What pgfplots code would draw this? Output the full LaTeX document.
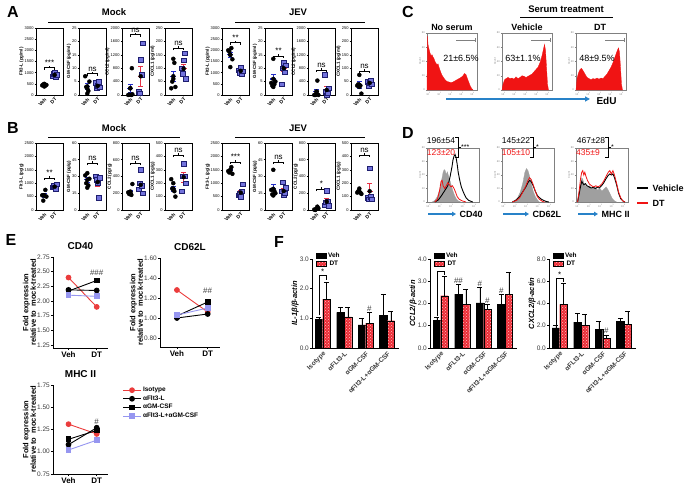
\documentclass[border=0pt]{standalone}
\usepackage{fontspec}
\setmainfont{Liberation Sans}
\usepackage{pgfplots}
\pgfplotsset{compat=1.18}
\usetikzlibrary{patterns,arrows.meta}
\definecolor{vblue}{RGB}{35,45,200}
\definecolor{dred}{RGB}{230,50,70}
\definecolor{sqfill}{RGB}{115,115,220}
\definecolor{sqdraw}{RGB}{30,30,110}
\definecolor{histred}{RGB}{240,20,20}
\definecolor{arrowblue}{RGB}{40,130,200}
\definecolor{lav}{RGB}{150,150,240}
\definecolor{barred}{RGB}{235,45,55}
\definecolor{isored}{RGB}{235,60,60}
\definecolor{txtgray}{RGB}{60,60,60}
\newcommand{\fs}[1]{\fontsize{#1}{#1}\selectfont}
\pgfkeys{/pgf/number format/assume math mode=true, /pgf/number format/1000 sep={}}
\pgfplotsset{
 ab/.style={scale only axis, anchor=south west, width=27pt, height=67pt, xmin=0.2, xmax=2.8, ymin=0,
  xtick={1,2}, xticklabels={Veh,DT},
  x tick label style={rotate=45, anchor=north east, font=\fs{5}\bfseries, inner sep=0.5pt},
  y tick label style={font=\fs{4}, inner sep=0.8pt},
  ylabel style={font=\fs{4.5}\bfseries, inner sep=0pt},
  tick align=outside, xtick pos=bottom, ytick pos=left, major tick length=1.4pt,
  axis line style={line width=0.8pt}, every tick/.style={black, line width=0.5pt},
  scaled y ticks=false, clip=false},
 hist/.style={scale only axis, anchor=south west, xmin=0, xmax=100, ymin=0, ymax=100,
  axis line style={gray, line width=0.4pt}, xtick={3,25,47,69,91},
  xticklabels={10\textsuperscript{0},10\textsuperscript{1},10\textsuperscript{2},10\textsuperscript{3},10\textsuperscript{4}},
  ytick={0,25,50,75,100}, yticklabels={0,20,40,60,80},
  tick label style={font=\fs{2.6}, gray, inner sep=0.8pt}, major tick length=1.2pt,
  tick align=outside, xtick pos=bottom, ytick pos=left, every tick/.style={gray, line width=0.3pt},
  ylabel={Count}, ylabel style={font=\fs{2.6}, gray, inner sep=0pt}, clip=false},
 eax/.style={scale only axis, anchor=south west, axis lines*=left, xmin=0.45, xmax=2.4,
  xtick={1,2}, xticklabels={Veh,DT}, x tick label style={font=\fs{8}\bfseries, inner sep=1.5pt},
  y tick label style={font=\fs{6.5}, txtgray, inner sep=1pt, /pgf/number format/fixed, /pgf/number format/fixed zerofill, /pgf/number format/precision=2},
  ylabel={Fold expression\\relative to\ \ mock-treated}, ylabel style={align=center, font=\fs{7.5}\bfseries, inner sep=0pt},
  title style={font=\fs{10}\bfseries, inner sep=1pt}, tick align=outside, major tick length=2pt,
  axis line style={line width=0.8pt}, every tick/.style={black, line width=0.6pt},
  every axis plot/.append style={line width=0.9pt, mark size=2.4pt}, clip=false},
 fax/.style={scale only axis, anchor=south west, width=87pt, height=89pt, ymin=0, xmin=-0.5, xmax=3.55,
  axis lines*=left, ybar, bar width=7.5pt, xtick={0,1,2,3},
  xticklabels={Isotype,αFLt3-L,αGM-CSF,αFlt3-L+αGM-CSF},
  x tick label style={rotate=45, anchor=north east, font=\fs{6.6}\bfseries, txtgray, inner sep=0.5pt},
  y tick label style={font=\fs{6.5}, txtgray, inner sep=1pt, /pgf/number format/fixed, /pgf/number format/fixed zerofill, /pgf/number format/precision=1},
  ylabel style={font=\fs{7.5}\bfseries\itshape, inner sep=0pt},
  major x tick style={draw=none}, tick align=outside, major tick length=2pt,
  axis line style={line width=0.8pt}, every tick/.style={black, line width=0.6pt}, clip=false,
  legend style={at={(0.04,1.09)}, anchor=north west, draw=none, fill=none, font=\fs{6.5}\bfseries, row sep=-2.5pt, inner sep=0pt},
  legend image code/.code={\draw[#1] (0pt,-2pt) rectangle (10pt,3pt);}},
 vbar/.style={fill=black, draw=black, bar shift=-3.75pt, error bars/.cd, y dir=plus, y explicit,
  error bar style={black, line width=0.6pt}, error mark options={rotate=90, black, mark size=2.5pt, line width=0.6pt}},
 dbar/.style={fill=barred, draw=black, postaction={pattern=crosshatch dots, pattern color=pink}, bar shift=3.75pt, error bars/.cd, y dir=plus, y explicit,
  error bar style={black, line width=0.6pt}, error mark options={rotate=90, black, mark size=2.5pt, line width=0.6pt}},
}
\newcommand{\abplot}[9]{%
\begin{axis}[ab,#1]
\addplot[only marks, mark=*, mark size=2pt, black] coordinates {#2};
\addplot[only marks, mark=square*, mark size=2.2pt, mark options={draw=sqdraw, fill=sqfill, line width=0.5pt}] coordinates {#3};
\addplot[only marks, mark=none, error bars/.cd, y dir=both, y explicit, error bar style={vblue, line width=0.6pt}, error mark options={rotate=90, vblue, mark size=2.2pt, line width=0.6pt}] coordinates {(1,#4) +- (0,#5)};
\addplot[only marks, mark=none, error bars/.cd, y dir=both, y explicit, error bar style={dred, line width=0.6pt}, error mark options={rotate=90, dred, mark size=2.2pt, line width=0.6pt}] coordinates {(2,#6) +- (0,#7)};
\addplot[vblue, line width=1.2pt] coordinates {(0.7,#4)(1.3,#4)};
\addplot[dred, line width=1.2pt] coordinates {(1.7,#6)(2.3,#6)};
\draw[line width=0.5pt] ([yshift=-2pt]axis cs:1,#8) -- (axis cs:1,#8) -- (axis cs:2,#8) -- ([yshift=-2pt]axis cs:2,#8);
\draw[line width=0.5pt] (axis cs:1.5,#8) -- ([yshift=1.8pt]axis cs:1.5,#8) node[above, inner sep=0.3pt, font=\fs{8}] {#9};
\end{axis}}
\begin{document}
\begin{tikzpicture}
\useasboundingbox (0pt,0pt) rectangle (685pt,-486pt);
% ---------- headers ----------
\node[font=\fs{16}\bfseries] at (13pt,-12pt) {A};
\node[font=\fs{16}\bfseries] at (13pt,-128pt) {B};
\node[font=\fs{16}\bfseries] at (408pt,-12pt) {C};
\node[font=\fs{16}\bfseries] at (408pt,-133pt) {D};
\node[font=\fs{16}\bfseries] at (11pt,-240pt) {E};
\node[font=\fs{16}\bfseries] at (279pt,-242pt) {F};
\node[font=\fs{9.5}\bfseries] at (114pt,-12pt) {Mock};
\draw[line width=0.6pt] (48pt,-22pt) -- (180pt,-22pt);
\node[font=\fs{9.5}\bfseries] at (298pt,-12pt) {JEV};
\draw[line width=0.6pt] (235pt,-22pt) -- (365pt,-22pt);
\node[font=\fs{9.5}\bfseries] at (114pt,-128pt) {Mock};
\draw[line width=0.6pt] (48pt,-137pt) -- (180pt,-137pt);
\node[font=\fs{9.5}\bfseries] at (298pt,-128pt) {JEV};
\draw[line width=0.6pt] (235pt,-137pt) -- (365pt,-137pt);
% ---------- A ----------
\abplot{at={(36pt,-95pt)}, ymax=3000, ytick={0,500,...,3000}, ylabel={Flt3-L (pg/ml)}}
 {(0.8,430)(0.9,470)(1.0,500)(1.1,420)(1.2,450)(1.0,380)}
 {(1.8,850)(1.9,950)(2.0,1000)(2.1,820)(2.2,900)}{450}{25}{900}{35}{1230}{***}
\abplot{at={(79pt,-95pt)}, ymax=25, ytick={0,5,...,25}, ylabel={GM-CSF (pg/ml)}}
 {(0.8,7)(0.9,3)(1.0,2.5)(1.1,1.5)(1.2,5)(1.0,0.5)}
 {(1.8,4.5)(1.9,2.5)(2.0,3.5)(2.1,5)(2.2,3)}{3.2}{1.0}{3.4}{0.6}{8}{ns}
\abplot{at={(122pt,-95pt)}, ymax=2000, ytick={0,400,...,2000}, ylabel={CCL2 (pg/ml)}}
 {(0.8,0)(0.9,10)(1.0,200)(1.1,0)(1.15,800)(1.2,20)}
 {(1.8,100)(1.9,50)(2.0,1050)(2.1,600)(2.2,1550)}{200}{130}{560}{300}{1800}{ns}
\abplot{at={(165pt,-95pt)}, ymax=250, ytick={0,50,...,250}, ylabel={CXCL1 (pg/ml)}}
 {(0.8,25)(0.9,50)(1.0,135)(1.1,120)(1.2,30)(1.0,60)}
 {(1.8,100)(1.9,80)(2.0,130)(2.1,155)(2.2,60)}{70}{20}{98}{18}{175}{ns}
\abplot{at={(222pt,-95pt)}, ymax=3000, ytick={0,500,...,3000}, ylabel={Flt3-L (pg/ml)}}
 {(0.8,2000)(0.9,1950)(1.0,1800)(1.1,2100)(1.2,1600)(1.0,1250)}
 {(1.8,1100)(1.9,1000)(2.0,1250)(2.1,950)(2.2,1050)}{1800}{130}{1080}{50}{2350}{**}
\abplot{at={(265pt,-95pt)}, ymax=25, ytick={0,5,...,25}, ylabel={GM-CSF (pg/ml)}}
 {(0.8,4.5)(0.9,3.5)(1.0,13.5)(1.1,4)(1.2,5)(1.0,3)}
 {(1.8,4)(1.9,10)(2.0,12)(2.1,8.5)(2.2,11)}{6}{1.8}{10}{1.2}{14.5}{**}
\abplot{at={(308pt,-95pt)}, ymax=2000, ytick={0,400,...,2000}, ylabel={CCL2 (pg/ml)}}
 {(0.8,0)(0.9,0)(1.0,20)(1.1,430)(1.2,0)(1.05,100)}
 {(1.8,600)(1.9,100)(2.0,0)(2.1,50)(2.2,200)}{100}{70}{150}{110}{750}{ns}
\abplot{at={(351pt,-95pt)}, ymax=250, ytick={0,50,...,250}, ylabel={CXCL1 (pg/ml)}}
 {(0.8,35)(0.9,40)(1.0,75)(1.1,35)(1.2,5)(1.0,30)}
 {(1.8,50)(1.9,35)(2.0,45)(2.1,55)(2.2,40)}{38}{12}{45}{6}{90}{ns}
% ---------- B ----------
\abplot{at={(36pt,-210pt)}, ymax=2500, ytick={0,500,...,2500}, ylabel={Flt3-L (pg/g)}}
 {(0.8,550)(0.9,350)(1.0,550)(1.1,750)(1.2,500)}
 {(1.8,850)(1.9,900)(2.0,850)(2.1,800)(2.2,950)}{540}{70}{870}{30}{1200}{**}
\abplot{at={(79pt,-210pt)}, ymax=60, ytick={0,15,...,60}, ylabel={GM-CSF (pg/g)}}
 {(0.8,31)(0.9,24)(1.0,20)(1.1,22)(1.2,28)(1.0,33)}
 {(1.8,30)(1.9,27)(2.0,24)(2.1,11)(2.2,29)}{27}{2.5}{25}{3.5}{42}{ns}
\abplot{at={(122pt,-210pt)}, ymax=800, ytick={0,200,...,800}, ylabel={CCL2 (pg/g)}}
 {(0.8,210)(0.9,190)(1.0,200)(1.1,180)(1.2,310)(1.0,210)}
 {(1.8,250)(1.9,320)(2.0,480)(2.1,290)(2.2,200)}{220}{20}{300}{45}{560}{ns}
\abplot{at={(165pt,-210pt)}, ymax=500, ytick={0,100,...,500}, ylabel={CXCL1 (pg/g)}}
 {(0.8,230)(0.9,160)(1.0,150)(1.1,140)(1.2,100)(1.0,200)}
 {(1.8,140)(1.9,250)(2.0,345)(2.1,250)(2.2,200)}{160}{20}{245}{35}{410}{ns}
\abplot{at={(222pt,-210pt)}, ymax=2500, ytick={0,500,...,2500}, ylabel={Flt3-L (pg/g)}}
 {(0.8,1450)(0.9,1400)(1.0,1500)(1.1,1600)(1.2,1350)}
 {(1.8,550)(1.9,600)(2.0,500)(2.1,700)(2.2,950)}{1470}{50}{650}{80}{1800}{***}
\abplot{at={(265pt,-210pt)}, ymax=60, ytick={0,15,...,60}, ylabel={GM-CSF (pg/g)}}
 {(0.8,18)(0.9,14)(1.0,36)(1.1,17)(1.2,15)(1.0,13)}
 {(1.8,17)(1.9,25)(2.0,13)(2.1,15)(2.2,20)}{19}{4}{17}{2.5}{43}{ns}
\abplot{at={(308pt,-210pt)}, ymax=800, ytick={0,200,...,800}, ylabel={CCL2 (pg/g)}}
 {(0.8,5)(0.9,0)(1.0,10)(1.1,40)(1.2,20)}
 {(1.8,60)(1.9,90)(2.0,230)(2.1,100)(2.2,50)}{15}{8}{100}{35}{250}{*}
\abplot{at={(351pt,-210pt)}, ymax=500, ytick={0,100,...,500}, ylabel={CXCL1 (pg/g)}}
 {(0.8,130)(0.9,140)(1.0,160)(1.1,130)(1.2,120)}
 {(1.8,90)(1.9,80)(2.0,310)(2.1,100)(2.2,80)}{135}{8}{140}{60}{410}{ns}
% ---------- C ----------
\node[font=\fs{9.5}\bfseries] at (566pt,-9pt) {Serum treatment};
\draw[line width=0.7pt] (520pt,-17pt) -- (613pt,-17pt);
\node[font=\fs{9}\bfseries] at (452pt,-27pt) {No serum};
\node[font=\fs{9}\bfseries] at (527pt,-27pt) {Vehicle};
\node[font=\fs{9}\bfseries] at (600pt,-27pt) {DT};
\begin{axis}[hist, at={(427pt,-90pt)}, width=50pt, height=57pt]
\addplot[fill=histred, draw=histred, line width=0.3pt] coordinates {(0,0)(1,95)(2,80)(4,72)(6,65)(8,60)(10,62)(12,58)(14,55)(16,50)(18,47)(20,44)(22,46)(24,40)(26,35)(28,30)(30,26)(33,22)(36,18)(40,15)(44,14)(48,13)(52,14)(56,16)(60,18)(64,20)(68,22)(72,25)(75,29)(78,27)(80,22)(83,15)(86,8)(89,3)(92,0)} \closedcycle;
\draw[gray, line width=0.4pt] (axis cs:58,88) -- (axis cs:97,88) (axis cs:97,85) -- (axis cs:97,91);
\node[font=\fs{9}] at (axis cs:68,56) {21±6.5\%};
\end{axis}
\begin{axis}[hist, at={(502pt,-90pt)}, width=50pt, height=57pt]
\addplot[fill=histred, draw=histred, line width=0.3pt] coordinates {(0,0)(2,10)(5,18)(8,20)(12,22)(16,20)(20,21)(24,19)(28,23)(32,20)(36,22)(40,25)(44,24)(48,22)(52,24)(56,26)(60,28)(64,32)(68,36)(72,40)(76,48)(80,60)(83,72)(85,80)(87,70)(89,40)(91,10)(93,0)} \closedcycle;
\draw[gray, line width=0.4pt] (axis cs:58,88) -- (axis cs:97,88) (axis cs:97,85) -- (axis cs:97,91);
\node[font=\fs{9}] at (axis cs:42,56) {63±1.1\%};
\end{axis}
\begin{axis}[hist, at={(576pt,-90pt)}, width=50pt, height=57pt]
\addplot[fill=histred, draw=histred, line width=0.3pt] coordinates {(0,0)(2,20)(5,30)(8,36)(11,38)(14,34)(18,28)(22,22)(26,20)(30,18)(34,20)(38,19)(42,21)(46,19)(50,21)(54,20)(58,24)(62,28)(66,34)(70,40)(74,48)(78,58)(82,68)(85,74)(87,66)(89,40)(91,10)(93,0)} \closedcycle;
\draw[gray, line width=0.4pt] (axis cs:58,88) -- (axis cs:97,88) (axis cs:97,85) -- (axis cs:97,91);
\node[font=\fs{9}] at (axis cs:42,56) {48±9.5\%};
\end{axis}
\draw[-{Triangle[length=5pt,width=5pt]}, arrowblue, line width=1.6pt] (446pt,-99pt) -- (590pt,-99pt);
\node[font=\fs{10}\bfseries, anchor=west] at (593pt,-101pt) {EdU};
% ---------- D ----------
\begin{axis}[hist, at={(427pt,-202pt)}, width=52pt, height=54pt]
\addplot[fill=gray!75, draw=gray!75, line width=0.3pt] coordinates {(10,0)(15,3)(20,10)(25,25)(28,40)(31,55)(33,60)(35,58)(37,50)(39,56)(41,50)(44,40)(47,30)(50,20)(53,12)(56,6)(60,2)(65,0)} \closedcycle;
\addplot[black, line width=0.9pt] coordinates {(15,0)(22,4)(28,12)(32,18)(36,24)(40,30)(44,45)(48,65)(50,78)(52,85)(54,88)(56,82)(58,70)(60,55)(63,40)(66,28)(70,18)(75,8)(80,3)(88,0)};
\addplot[histred, line width=0.8pt] coordinates {(15,0)(20,5)(24,20)(27,38)(29,40)(31,30)(34,25)(37,30)(40,36)(43,32)(46,28)(49,30)(52,25)(55,18)(58,10)(62,5)(68,2)(75,0)};
\end{axis}
\begin{axis}[hist, at={(502pt,-202pt)}, width=52pt, height=54pt]
\addplot[fill=gray!75, draw=gray!75, line width=0.3pt] coordinates {(20,0)(25,3)(30,8)(35,18)(40,35)(44,55)(47,62)(50,58)(53,48)(56,35)(60,20)(64,10)(68,4)(72,0)} \closedcycle;
\addplot[black, line width=0.9pt] coordinates {(20,0)(28,4)(34,10)(38,16)(42,22)(46,28)(50,36)(53,40)(56,38)(60,30)(64,20)(68,12)(72,8)(76,5)(80,3)(85,1)(90,0)};
\addplot[histred, line width=0.8pt] coordinates {(20,0)(28,3)(34,8)(38,15)(42,22)(46,30)(50,40)(53,45)(56,42)(60,32)(64,20)(68,10)(72,5)(78,1)(82,0)};
\end{axis}
\begin{axis}[hist, at={(576pt,-202pt)}, width=52pt, height=54pt]
\addplot[fill=gray!75, draw=gray!75, line width=0.3pt] coordinates {(3,0)(6,15)(9,35)(11,45)(13,42)(15,35)(18,30)(22,28)(26,30)(30,25)(34,28)(38,26)(42,22)(46,25)(50,20)(54,24)(58,28)(62,22)(66,14)(70,6)(74,2)(78,0)} \closedcycle;
\addplot[black, line width=0.9pt] coordinates {(3,0)(6,15)(9,30)(11,38)(13,35)(15,32)(18,34)(21,30)(25,28)(29,26)(33,27)(37,25)(41,27)(45,26)(49,30)(53,35)(57,42)(61,48)(65,52)(68,50)(71,52)(74,45)(78,32)(82,16)(86,6)(90,2)(94,0)};
\addplot[histred, line width=0.8pt] coordinates {(3,0)(6,20)(9,45)(11,55)(13,58)(15,50)(17,55)(19,48)(22,40)(26,33)(30,30)(34,28)(38,30)(42,28)(46,30)(50,34)(54,40)(58,48)(62,55)(65,58)(68,52)(71,58)(74,50)(78,35)(82,18)(86,8)(90,2)(94,0)};
\end{axis}
\node[font=\fs{8.5}] at (441pt,-141pt) {196±54};
\node[font=\fs{8.5}, histred] at (441pt,-153pt) {123±20};
\draw[line width=0.5pt] (455pt,-137pt) -- (458pt,-137pt) -- (458pt,-157pt) -- (455pt,-157pt) (458pt,-147pt) -- (461pt,-147pt);
\node[font=\fs{7}, anchor=west, inner sep=0pt] at (461pt,-147pt) {***};
\node[font=\fs{8.5}] at (516pt,-141pt) {145±22};
\node[font=\fs{8.5}, histred] at (516pt,-153pt) {105±10};
\draw[line width=0.5pt] (530pt,-137pt) -- (533pt,-137pt) -- (533pt,-157pt) -- (530pt,-157pt) (533pt,-147pt) -- (536pt,-147pt);
\node[font=\fs{7}, anchor=west, inner sep=0pt] at (536pt,-147pt) {*};
\node[font=\fs{8.5}] at (591pt,-141pt) {467±28};
\node[font=\fs{8.5}, histred] at (588pt,-153pt) {435±9};
\draw[line width=0.5pt] (605pt,-137pt) -- (608pt,-137pt) -- (608pt,-157pt) -- (605pt,-157pt) (608pt,-147pt) -- (611pt,-147pt);
\node[font=\fs{7}, anchor=west, inner sep=0pt] at (611pt,-147pt) {*};
\draw[-{Triangle[length=4pt,width=4.5pt]}, arrowblue, line width=1.4pt] (428pt,-214pt) -- (456pt,-214pt);
\node[font=\fs{9}\bfseries, anchor=west] at (456pt,-214pt) {CD40};
\draw[-{Triangle[length=4pt,width=4.5pt]}, arrowblue, line width=1.4pt] (503pt,-214pt) -- (529pt,-214pt);
\node[font=\fs{9}\bfseries, anchor=west] at (529pt,-214pt) {CD62L};
\draw[-{Triangle[length=4pt,width=4.5pt]}, arrowblue, line width=1.4pt] (578pt,-214pt) -- (598pt,-214pt);
\node[font=\fs{9}\bfseries, anchor=west] at (598pt,-214pt) {MHC II};
\draw[black, line width=1.3pt] (637pt,-188pt) -- (648pt,-188pt);
\node[font=\fs{9}\bfseries, anchor=west] at (649pt,-188pt) {Vehicle};
\draw[histred, line width=1.3pt] (637pt,-203pt) -- (648pt,-203pt);
\node[font=\fs{9}\bfseries, anchor=west] at (649pt,-203pt) {DT};
% ---------- E ----------
\begin{axis}[eax, at={(53pt,-348pt)}, width=55pt, height=91pt, ymin=1.2, ymax=2.75, ytick={1.25,1.5,1.75,2,2.25,2.5,2.75}, title={CD40}]
\addplot[isored, mark=*] coordinates {(1,2.40)(2,1.90)};
\addplot[black, mark=*] coordinates {(1,2.19)(2,2.18)};
\addplot[black, mark=square*] coordinates {(1,2.17)(2,2.35)};
\addplot[lav, mark=square*] coordinates {(1,2.10)(2,2.08)};
\node[font=\fs{8}, txtgray] at (axis cs:2,2.49) {\#\#\#};
\end{axis}
\begin{axis}[eax, at={(160pt,-347pt)}, width=60pt, height=89pt, ymin=0.71, ymax=1.6, ytick={0.8,1.0,1.2,1.4,1.6}, title={CD62L}]
\addplot[isored, mark=*] coordinates {(1,1.28)(2,1.06)};
\addplot[black, mark=*] coordinates {(1,1.00)(2,1.04)};
\addplot[black, mark=square*] coordinates {(1,1.02)(2,1.16)};
\addplot[lav, mark=square*] coordinates {(1,1.03)(2,1.10)};
\node[font=\fs{8}, txtgray] at (axis cs:2,1.27) {\#\#};
\end{axis}
\begin{axis}[eax, at={(53pt,-474pt)}, width=55pt, height=89pt, ymin=0.75, ymax=1.75, ytick={0.75,1,1.25,1.5,1.75}, title={MHC II},
  legend style={at={(1.27,1)}, anchor=north west, draw=none, font=\fs{6.5}\bfseries, row sep=-1.5pt, inner sep=0pt}, legend cell align=left]
\addplot[isored, mark=*] coordinates {(1,1.31)(2,1.20)};
\addplot[black, mark=*] coordinates {(1,1.08)(2,1.27)};
\addplot[black, mark=square*] coordinates {(1,1.14)(2,1.24)};
\addplot[lav, mark=square*] coordinates {(1,1.02)(2,1.13)};
\node[font=\fs{8}, txtgray] at (axis cs:2,1.34) {\#};
\legend{Isotype,αFlt3-L,αGM-CSF,αFlt3-L+αGM-CSF}
\end{axis}
% ---------- F ----------
\begin{axis}[fax, at={(312pt,-348pt)}, ymax=3, ytick={0,1,2,3}, ylabel={IL-1β/β-actin}]
\addplot[vbar] coordinates {(0,0.97) +- (0,0.07) (1,1.20) +- (0,0.17) (2,0.78) +- (0,0.22) (3,1.10) +- (0,0.72)};
\addplot[dbar] coordinates {(0,1.65) +- (0,0.58) (1,1.05) +- (0,0.32) (2,0.84) +- (0,0.38) (3,0.92) +- (0,0.32)};
\legend{Veh,DT}
\draw[line width=0.6pt] ([xshift=-3.75pt]axis cs:0,1.1) -- ([xshift=-3.75pt]axis cs:0,2.45) -- ([xshift=3.75pt]axis cs:0,2.45) -- ([xshift=3.75pt]axis cs:0,2.3);
\node[font=\fs{8}] at ([yshift=4pt]axis cs:0,2.45) {*};
\node[font=\fs{8}, txtgray, above, inner sep=0.5pt] at ([xshift=3.75pt]axis cs:2,1.22) {\#};
\end{axis}
\begin{axis}[fax, at={(430pt,-348pt)}, ymax=4, ytick={0,1,2,3,4}, ylabel={CCL2/β-actin}]
\addplot[vbar] coordinates {(0,1.25) +- (0,0.15) (1,2.42) +- (0,0.45) (2,2.03) +- (0,0.70) (3,1.95) +- (0,0.45)};
\addplot[dbar] coordinates {(0,2.35) +- (0,0.88) (1,1.95) +- (0,0.70) (2,1.73) +- (0,0.25) (3,2.42) +- (0,1.0)};
\legend{Veh,DT}
\draw[line width=0.6pt] ([xshift=-3.75pt]axis cs:0,1.45) -- ([xshift=-3.75pt]axis cs:0,3.45) -- ([xshift=3.75pt]axis cs:0,3.45) -- ([xshift=3.75pt]axis cs:0,3.3);
\node[font=\fs{8}] at ([yshift=4pt]axis cs:0,3.45) {*};
\node[font=\fs{8}, txtgray, above, inner sep=0.5pt] at ([xshift=-3.75pt]axis cs:1,2.87) {\#\#};
\node[font=\fs{8}, txtgray, above, inner sep=0.5pt] at ([xshift=-3.75pt]axis cs:2,2.73) {\#};
\node[font=\fs{8}, txtgray, above, inner sep=0.5pt] at ([xshift=3.75pt]axis cs:2,1.98) {\#};
\node[font=\fs{8}, txtgray, above, inner sep=0.5pt] at ([xshift=-3.75pt]axis cs:3,2.40) {\#};
\end{axis}
\begin{axis}[fax, at={(549pt,-348pt)}, ymax=8, ytick={0,2,4,6,8}, ylabel={CXCL2/β-actin}]
\addplot[vbar] coordinates {(0,1.80) +- (0,0.2) (1,2.32) +- (0,0.8) (2,1.70) +- (0,0.7) (3,2.42) +- (0,0.25)};
\addplot[dbar] coordinates {(0,3.92) +- (0,1.9) (1,2.02) +- (0,1.0) (2,0.88) +- (0,0.3) (3,2.12) +- (0,1.2)};
\legend{Veh,DT}
\draw[line width=0.6pt] ([xshift=-3.75pt]axis cs:0,2.1) -- ([xshift=-3.75pt]axis cs:0,6.25) -- ([xshift=3.75pt]axis cs:0,6.25) -- ([xshift=3.75pt]axis cs:0,5.95);
\node[font=\fs{8}] at ([yshift=4pt]axis cs:0,6.25) {*};
\node[font=\fs{8}, txtgray, above, inner sep=0.5pt] at ([xshift=3.75pt]axis cs:2,1.2) {\#};
\end{axis}
\end{tikzpicture}
\end{document}
